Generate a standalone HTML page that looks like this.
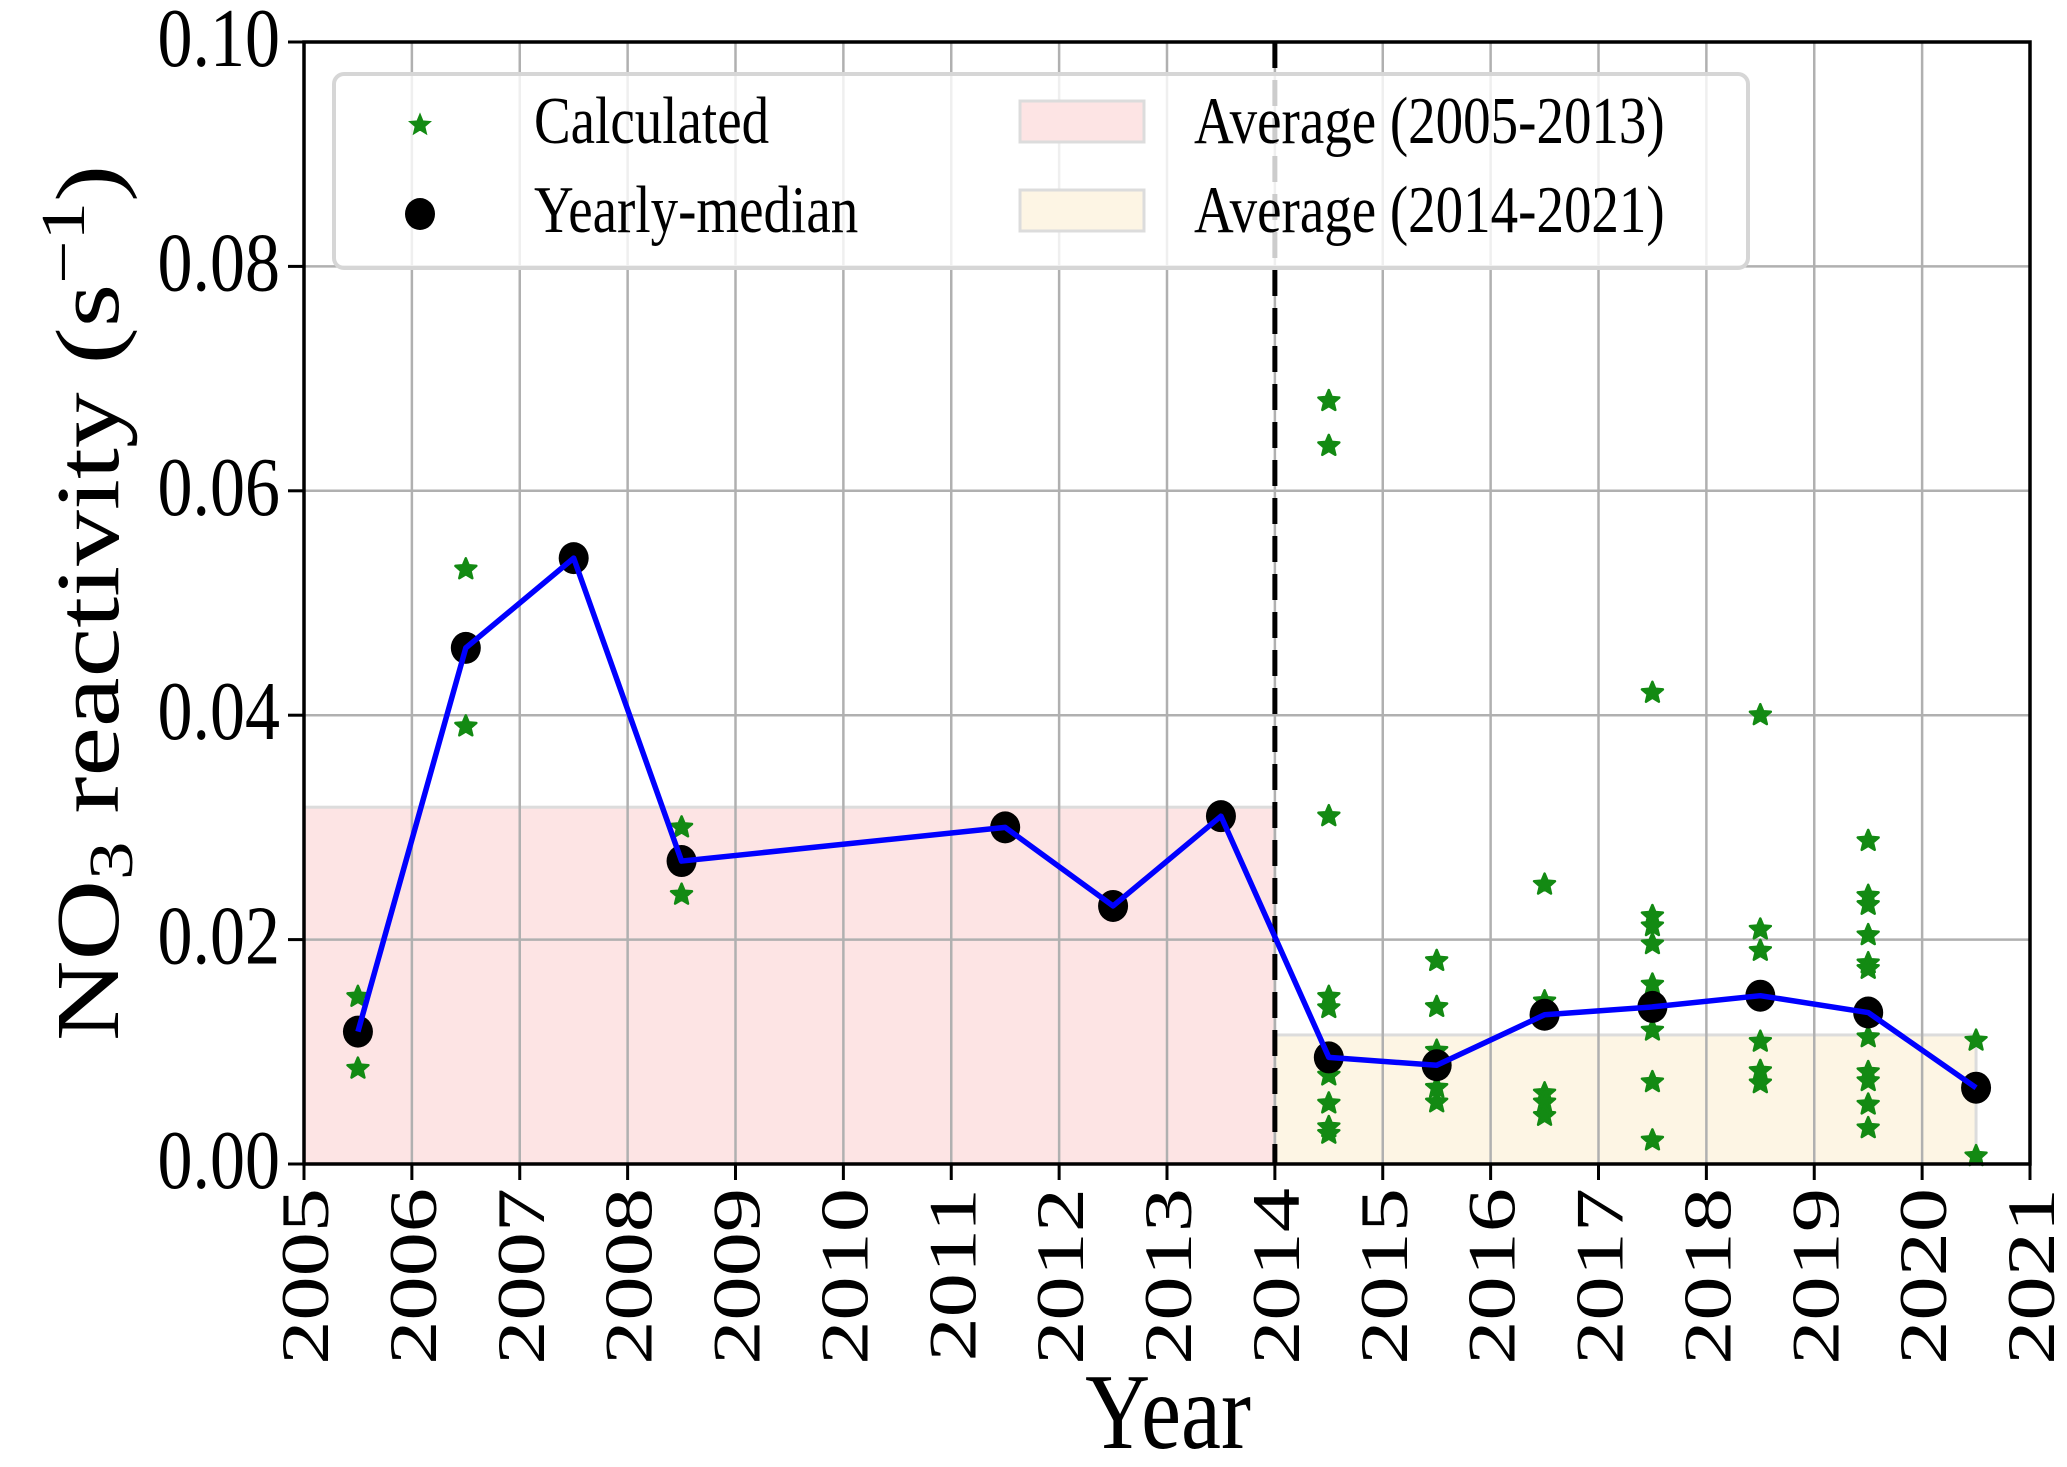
<!DOCTYPE html>
<html><head><meta charset="utf-8"><style>
html,body{margin:0;padding:0;background:#fff;}
svg{display:block;font-family:"Liberation Serif",serif;}
</style></head><body>
<svg id="chart" width="2067" height="1467" viewBox="0 0 2067 1467" xmlns="http://www.w3.org/2000/svg"></svg>
<script>
const xTicks=[2005,2006,2007,2008,2009,2010,2011,2012,2013,2014,2015,2016,2017,2018,2019,2020,2021];
const yTicks=[0,0.02,0.04,0.06,0.08,0.10];
const yTickLabels=["0.00","0.02","0.04","0.06","0.08","0.10"];
const medianYears=[2005.5,2006.5,2007.5,2008.5,2011.5,2012.5,2013.5,2014.5,2015.5,2016.5,2017.5,2018.5,2019.5,2020.5];
const medianValues=[0.0118,0.046,0.054,0.027,0.030,0.023,0.031,0.0095,0.0088,0.0133,0.014,0.015,0.0135,0.0068];
const calcYears=[2005.5,2005.5,2006.5,2006.5,2007.5,2008.5,2008.5,2011.5,2012.5,2013.5,
2014.5,2014.5,2014.5,2014.5,2014.5,2014.5,2014.5,2014.5,2014.5,2014.5,
2015.5,2015.5,2015.5,2015.5,2015.5,2015.5,
2016.5,2016.5,2016.5,2016.5,2016.5,2016.5,
2017.5,2017.5,2017.5,2017.5,2017.5,2017.5,2017.5,2017.5,2017.5,
2018.5,2018.5,2018.5,2018.5,2018.5,2018.5,2018.5,
2019.5,2019.5,2019.5,2019.5,2019.5,2019.5,2019.5,2019.5,2019.5,2019.5,2019.5,2019.5,
2020.5,2020.5];
const calcValues=[0.0149,0.0085,0.053,0.039,0.054,0.030,0.024,0.030,0.023,0.031,
0.068,0.064,0.031,0.0149,0.0139,0.0094,0.0079,0.0054,0.0033,0.0027,
0.0181,0.014,0.0101,0.0088,0.0068,0.0055,
0.0249,0.0145,0.0134,0.0063,0.0055,0.0043,
0.042,0.0221,0.0212,0.0196,0.016,0.0137,0.0119,0.0073,0.0021,
0.040,0.0209,0.019,0.015,0.0109,0.0083,0.0072,
0.0288,0.0239,0.0231,0.0204,0.0179,0.0174,0.0134,0.0113,0.0082,0.0074,0.0053,0.0032,
0.011,0.0007];
const avgPeriods=[[2005,2014],[2014,2020.5]];
const avgValues=[0.0318,0.0115];

const NS="http://www.w3.org/2000/svg";
const svg=document.getElementById('chart');
const L=304,R=2030,T=42,B=1164;
const X0=2005,X1=2021,Y0=0,Y1=0.10;
function sx(v){return L+(v-X0)/(X1-X0)*(R-L);}
function sy(v){return B-(v-Y0)/(Y1-Y0)*(B-T);}
function el(tag,attrs,parent){const e=document.createElementNS(NS,tag);for(const k in attrs)e.setAttribute(k,attrs[k]);(parent||svg).appendChild(e);return e;}
function starPts(cx,cy,r){let p=[];for(let i=0;i<10;i++){const a=-Math.PI/2+i*Math.PI/5;const rr=i%2?r*0.45:r;p.push((cx+rr*Math.cos(a)).toFixed(1)+','+(cy+rr*Math.sin(a)).toFixed(1));}return p.join(' ');}

const fills=['#fde4e4','#fdf5e4'];
avgPeriods.forEach((p,i)=>{
  const r=el('rect',{x:sx(p[0]),y:sy(avgValues[i]),width:sx(p[1])-sx(p[0]),height:sy(0)-sy(avgValues[i]),fill:fills[i],stroke:'#dcdcdc','stroke-width':3});
  
  
});
xTicks.forEach(t=>{const g=el('line',{x1:sx(t),x2:sx(t),y1:T,y2:B,stroke:'#b0b0b0','stroke-width':2.5});

});
yTicks.forEach(t=>{const g=el('line',{x1:L,x2:R,y1:sy(t),y2:sy(t),stroke:'#b0b0b0','stroke-width':2.5});

});
const dl=el('line',{x1:sx(2014),x2:sx(2014),y1:T,y2:B,stroke:'#000','stroke-width':5,'stroke-dasharray':'26,12'});


calcYears.forEach((yr,i)=>{const s=el('polygon',{points:starPts(sx(yr),sy(calcValues[i]),11),fill:'#138a13',stroke:'#138a13','stroke-width':2.5,'stroke-linejoin':'round'});

});
medianYears.forEach((yr,i)=>{const c=el('ellipse',{cx:sx(yr),cy:sy(medianValues[i]),rx:15,ry:16,fill:'#000'});

});
const ln=el('polyline',{points:medianYears.map((yr,i)=>sx(yr)+','+sy(medianValues[i])).join(' '),fill:'none',stroke:'#0000ff','stroke-width':5.5,'stroke-linejoin':'round'});


const fr=el('rect',{x:L,y:T,width:R-L,height:B-T,fill:'none',stroke:'#000','stroke-width':3.5});


xTicks.forEach(t=>{
  el('line',{x1:sx(t),x2:sx(t),y1:B,y2:B+16,stroke:'#000','stroke-width':3});
  const tx=el('text',{x:0,y:0,'font-size':68,'text-anchor':'end',transform:`translate(${sx(t)+24},${B+24}) rotate(-90) scale(1.3,1)`});
  tx.textContent=t;
  
  
});
yTicks.forEach((t,i)=>{
  el('line',{x1:L-16,x2:L,y1:sy(t),y2:sy(t),stroke:'#000','stroke-width':3});
  const tx=el('text',{x:0,y:0,'font-size':70,'text-anchor':'end',transform:`translate(${L-24},${sy(t)+24}) scale(1,1.2)`});
  tx.textContent=yTickLabels[i];
  
  
});
const xt=el('text',{x:0,y:0,'font-size':90,'text-anchor':'middle',transform:'translate(1168,1448) scale(1,1.2)'});
xt.textContent='Year';


const yt=el('text',{x:0,y:0,'font-size':90,'text-anchor':'middle',transform:`translate(118,${(T+B)/2}) rotate(-90) scale(1.24,1)`});
yt.innerHTML='NO<tspan font-size="62" dy="14">3</tspan><tspan dy="-14"> reactivity (s</tspan><tspan font-size="62" dy="-34">−1</tspan><tspan dy="34">)</tspan>';


const lg=el('g',{});


el('rect',{x:334,y:74,width:1414,height:194,rx:10,fill:'#fff','fill-opacity':0.8,stroke:'#d6d6d6','stroke-width':4},lg);
const ls=el('polygon',{points:starPts(420,125,10),fill:'#138a13',stroke:'#138a13','stroke-width':2},lg);


const lc=el('ellipse',{cx:420,cy:214,rx:15,ry:16,fill:'#000'},lg);


el('rect',{x:1020,y:101,width:124,height:41,fill:'#fde4e4',stroke:'#dcdcdc','stroke-width':3},lg);
el('rect',{x:1020,y:190,width:124,height:41,fill:'#fdf5e4',stroke:'#dcdcdc','stroke-width':3},lg);
[['Calculated',534,143],['Yearly-median',534,232],['Average (2005-2013)',1194,143],['Average (2014-2021)',1194,232]].forEach(d=>{
  const t=el('text',{x:0,y:0,'font-size':55,transform:`translate(${d[1]},${d[2]}) scale(1,1.22)`},lg);t.textContent=d[0];
  
  
});
</script>
</body></html>
